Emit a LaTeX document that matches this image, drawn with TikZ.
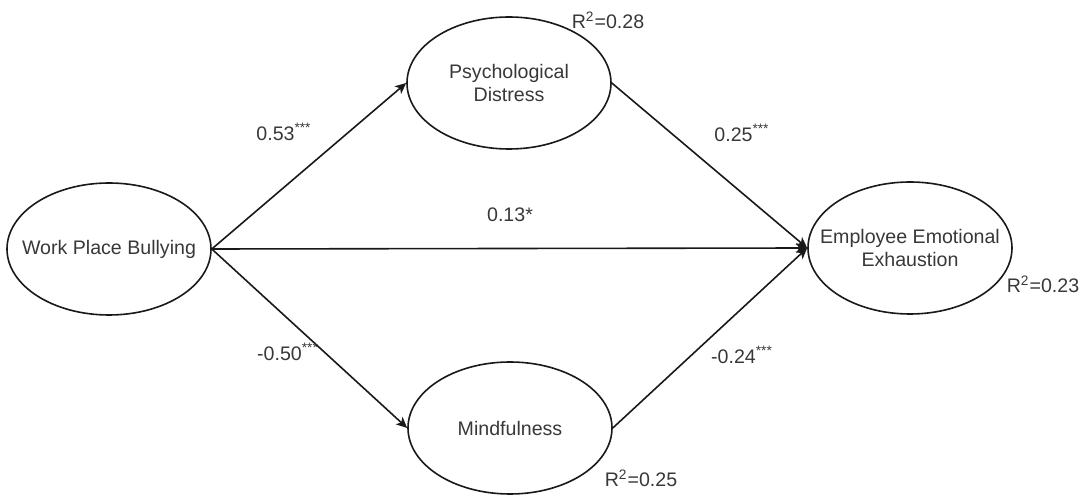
\documentclass[tikz,border=0pt]{standalone}
\usepackage{fontspec}
\setmainfont{Liberation Sans}
\usetikzlibrary{shapes.geometric,arrows.meta}
\definecolor{txt}{gray}{0.22}
\tikzset{
  lbl/.style={text=txt,font=\fontsize{9.8}{11.5}\selectfont,align=center,inner sep=0pt},
  construct/.style={ellipse,draw=black!90,line width=0.8pt,minimum width=102pt,minimum height=66pt,inner sep=0pt,label={[lbl]center:#1}},
  path/.style={draw=black!90,line width=0.8pt,-{Stealth[length=5.5pt,width=5pt,inset=1.5pt]}},
  coef/.style={lbl}
}
\begin{document}
\begin{tikzpicture}[x=0.5pt,y=-0.5pt]
\useasboundingbox (0,0) rectangle (1084,497);
\node[construct={Work Place Bullying}] (wpb) at (109,249) {};
\node[construct={Psychological\\Distress}] (pd) at (509,83) {};
\node[construct={Mindfulness}] (mf) at (510,428) {};
\node[construct={Employee Emotional\\Exhaustion}] (eee) at (910,248) {};
\draw[path] (wpb.east) -- (pd.west);
\draw[path] (wpb.east) -- (eee.west);
\draw[path] (wpb.east) -- (mf.west);
\draw[path] (pd.east) -- (eee.west);
\draw[path] (mf.east) -- (eee.west);
\node[coef] (c1) at (284,132) {0.53\textsuperscript{***}};
\node[coef] (c2) at (742,133) {0.25\textsuperscript{***}};
\node[coef] (c3) at (510,215) {0.13*};
\node[coef] (c4) at (288,352) {-0.50\textsuperscript{***}};
\node[coef] (c5) at (742,355) {-0.24\textsuperscript{***}};
\node[coef] (r1) at (608,20) {R\textsuperscript{2}=0.28};
\node[coef] (r2) at (641,478) {R\textsuperscript{2}=0.25};
\node[coef] (r3) at (1043,284) {R\textsuperscript{2}=0.23};
\end{tikzpicture}
\end{document}
